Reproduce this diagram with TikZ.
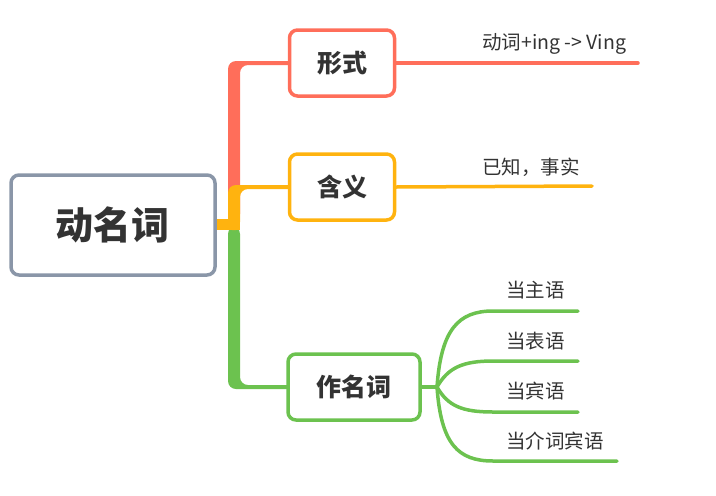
\documentclass[tikz,border=0pt]{standalone}
\usepackage{fontspec}
\setmainfont{Noto Sans CJK SC}
\usetikzlibrary{calc,backgrounds}
\definecolor{rootgray}{HTML}{8A96A8}
\definecolor{brred}{HTML}{FF6E5A}
\definecolor{brorange}{HTML}{FFB30F}
\definecolor{brgreen}{HTML}{6CC24F}
\definecolor{txt}{HTML}{333333}
\tikzset{
  topic/.style={draw,line width=3.5pt,rounded corners=8pt,fill=white,text=txt,
    font=\fontsize{25}{28}\selectfont\bfseries,minimum height=66pt},
  leaf/.style={text=txt,font=\fontsize{19.5}{22}\selectfont,anchor=west,inner sep=0pt},
  twig/.style={line width=3.5pt,line cap=round},
}
\begin{document}
\begin{tikzpicture}[x=1pt,y=-1pt]
  \useasboundingbox (0,0) rectangle (716,496);
  % central topic and main topics
  \node[draw=rootgray,line width=3.5pt,rounded corners=8pt,fill=white,text=txt,
    minimum width=204pt,minimum height=100pt,
    font=\fontsize{38}{42}\selectfont\bfseries] (root) at (113,225) {动名词};
  \node[topic,draw=brred,minimum width=105pt] (xingshi) at (342,63) {形式};
  \node[topic,draw=brorange,minimum width=105pt] (hanyi) at (342,187) {含义};
  \node[topic,draw=brgreen,minimum width=132pt] (zuo) at (354,387) {作名词};
  % hub and main branches
  \coordinate (hub) at (234,224);
  \begin{scope}[on background layer]
    \fill[brred,rounded corners=8pt] ($(hub)+(-6,-2)$) |- ($(xingshi.center)+(0,-2)$)
      -- ($(xingshi.center)+(0,2)$) -| ($(hub)+(6,-2)$) -- cycle;
    \fill[brgreen,rounded corners=8pt] ($(hub)+(-6,2)$) |- ($(zuo.center)+(0,2)$)
      -- ($(zuo.center)+(0,-2)$) -| ($(hub)+(6,2)$) -- cycle;
    \fill[brorange,rounded corners=8pt] ($(hub)+(-6,6)$) |- ($(hanyi.center)+(0,-2)$)
      -- ($(hanyi.center)+(0,2)$) -| ($(hub)+(6,6)$) -- cycle;
    \fill[brorange] ($(root.center)+(0,-6)$) rectangle ($(hub)+(6,6)$);
  \end{scope}
  % form
  \coordinate (xsend) at (638,63);
  \draw[brred,twig] (xingshi.east) -- (xsend);
  \node[leaf] (xsleaf) at (482,44) {动词+ing -> Ving};
  % meaning
  \coordinate (hyend) at (592,186);
  \draw[brorange,twig] (hanyi.east) -- (hyend);
  \node[leaf] (hyleaf) at (482,167) {已知，事实};
  % uses
  \coordinate (fork) at (437,387);
  \draw[brgreen,twig] (zuo.east) -- (fork);
  \draw[brgreen,twig] (fork) .. controls (441,330) and (458,311) .. (493,311) -- (578,311);
  \draw[brgreen,twig] (fork) .. controls (448,368) and (462,361) .. (493,361) -- (578,361);
  \draw[brgreen,twig] (fork) .. controls (448,406) and (462,412) .. (493,412) -- (578,412);
  \draw[brgreen,twig] (fork) .. controls (441,444) and (458,461) .. (493,461) -- (617,461);
  \node[leaf] (zhu) at (506,290) {当主语};
  \node[leaf] (biao) at (506,341) {当表语};
  \node[leaf] (bin) at (506,391) {当宾语};
  \node[leaf] (jie) at (506,441) {当介词宾语};
\end{tikzpicture}
\end{document}
